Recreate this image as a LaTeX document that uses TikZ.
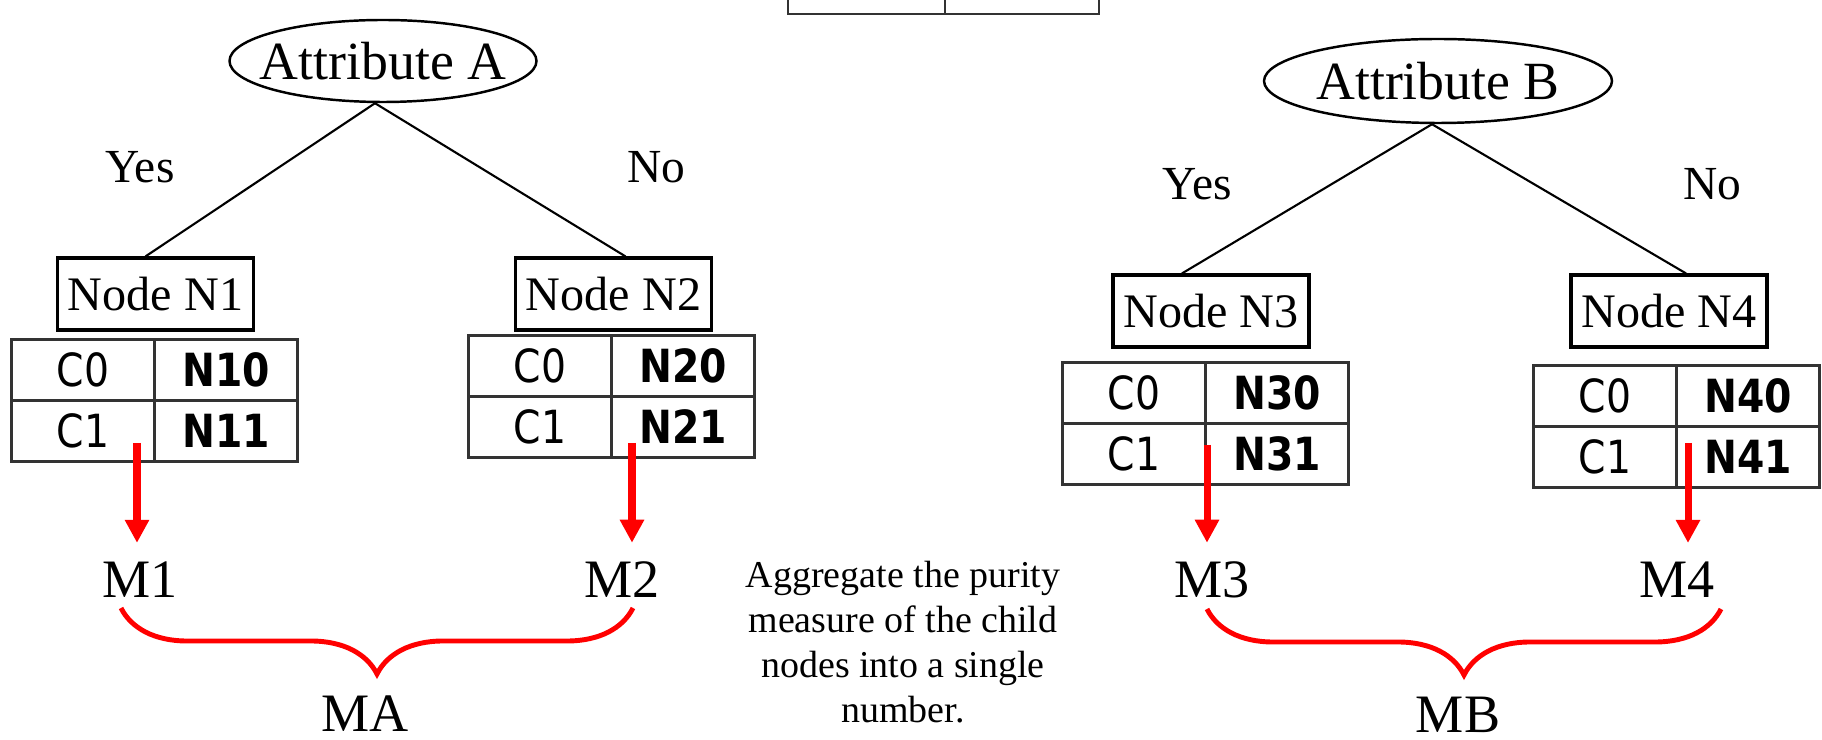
\documentclass[tikz,border=0pt]{standalone}
\usepackage{fontspec}
\setmainfont{Liberation Serif}
\newfontfamily\cellfont[FakeStretch=0.86]{DejaVu Sans}
\usepackage{tikz}
\usetikzlibrary{arrows.meta,positioning,shapes.geometric,decorations.pathreplacing}
\definecolor{measc}{RGB}{255,0,0}

\begin{document}
\begin{tikzpicture}[
  attr/.style={draw,ellipse,line width=0.7pt,inner sep=-3mm,font=\fontsize{15.3}{18}\selectfont},
  childbox/.style={draw,line width=0.9pt,minimum width=1.96cm,minimum height=0.72cm,inner sep=1pt,font=\fontsize{13.7}{16}\selectfont},
  cell/.style={draw=black!80,line width=0.6pt,outer sep=0pt,minimum width=1.43cm,minimum height=0.61cm,inner sep=0pt,font=\cellfont\fontsize{13}{15}\selectfont},
  cnt/.style={cell,font=\cellfont\bfseries\fontsize{13}{15}\selectfont},
  answer/.style={anchor=base,font=\fontsize{13.5}{16}\selectfont},
  meas/.style={anchor=base,font=\fontsize{15.4}{18}\selectfont},
  split/.style={line width=0.6pt},
  purity/.style={measc,line width=2pt,-{Triangle[width=2.3mm,length=2.3mm]},shorten >=0.6mm},
  agg/.style={measc,line width=1.4pt,decorate,decoration={brace,mirror,amplitude=6.6mm}},
  note/.style={align=center,inner sep=0pt,font=\fontsize{10.8}{12.8}\selectfont}]
\useasboundingbox (0,0) rectangle (18.22,7.39);
% ---- parent table, cut by the top edge ----
\node[cell,anchor=south west,minimum width=1.57cm] (top1) at (7.88,7.25) {};
\node[cell,right=0pt of top1,minimum width=1.54cm] (top2) {};
% ---- LEFT: split on attribute A ----
\node[attr,minimum width=3.07cm,minimum height=0.82cm] (attA) at (3.83,6.78) {Attribute A};
\node[childbox] (n1) at (1.555,4.45) {Node N1};
\node[childbox] (n2) at (6.135,4.45) {Node N2};
\draw[split] ([xshift=-0.8mm]attA.south) -- ([xshift=-1mm]n1.north);
\draw[split] ([xshift=-0.8mm]attA.south) -- ([xshift=1.2mm]n2.north);
\node[answer] (yesA) at (1.40,5.56) {Yes};
\node[answer] (noA) at (6.56,5.56) {No};
\node[cell] (t1a) at (0.83,3.69) {C0};
\node[cnt,right=0pt of t1a] (t1b) {N10};
\node[cell,below=0pt of t1a] (t1c) {C1};
\node[cnt,right=0pt of t1c] (t1d) {N11};
\node[cell] (t2a) at (5.40,3.73) {C0};
\node[cnt,right=0pt of t2a] (t2b) {N20};
\node[cell,below=0pt of t2a] (t2c) {C1};
\node[cnt,right=0pt of t2c] (t2d) {N21};
% ---- RIGHT: split on attribute B ----
\node[attr,minimum width=3.48cm,minimum height=0.84cm] (attB) at (14.38,6.58) {Attribute B};
\node[childbox] (n3) at (12.11,4.28) {Node N3};
\node[childbox] (n4) at (16.69,4.28) {Node N4};
\draw[split] ([xshift=-0.6mm]attB.south) -- ([xshift=-2.9mm]n3.north);
\draw[split] ([xshift=-0.6mm]attB.south) -- ([xshift=1.7mm]n4.north);
\node[answer] (yesB) at (11.97,5.39) {Yes};
\node[answer] (noB) at (17.12,5.39) {No};
\node[cell] (t3a) at (11.34,3.46) {C0};
\node[cnt,right=0pt of t3a] (t3b) {N30};
\node[cell,below=0pt of t3a] (t3c) {C1};
\node[cnt,right=0pt of t3c] (t3d) {N31};
\node[cell] (t4a) at (16.05,3.43) {C0};
\node[cnt,right=0pt of t4a] (t4b) {N40};
\node[cell,below=0pt of t4a] (t4c) {C1};
\node[cnt,right=0pt of t4c] (t4d) {N41};
% ---- purity of each child ----
\node[meas] (m1) at (1.40,1.42) {M1};
\node[meas] (m2) at (6.22,1.42) {M2};
\node[meas] (m3) at (12.12,1.42) {M3};
\node[meas] (m4) at (16.77,1.42) {M4};
\coordinate (p1) at (1.37,2.96);
\coordinate (p2) at (6.32,2.96);
\coordinate (p3) at (12.07,2.94);
\coordinate (p4) at (16.88,2.96);
\draw[purity] (p1) -- (p1 |- m1.north);
\draw[purity] (p2) -- (p2 |- m2.north);
\draw[purity] (p3) -- (p3 |- m3.north);
\draw[purity] (p4) -- (p4 |- m4.north);
% ---- aggregated measures ----
\draw[agg] (1.21,1.31) -- (6.33,1.31);
\draw[agg] (12.07,1.30) -- (17.21,1.30);
\node[meas] (ma) at (3.65,0.08) {MA};
\node[meas] (mb) at (14.58,0.07) {MB};
\node[note,anchor=north] (aggtxt) at (9.03,1.79)
  {Aggregate the purity\\measure of the child\\nodes into a single\\number.};
\end{tikzpicture}
\end{document}
